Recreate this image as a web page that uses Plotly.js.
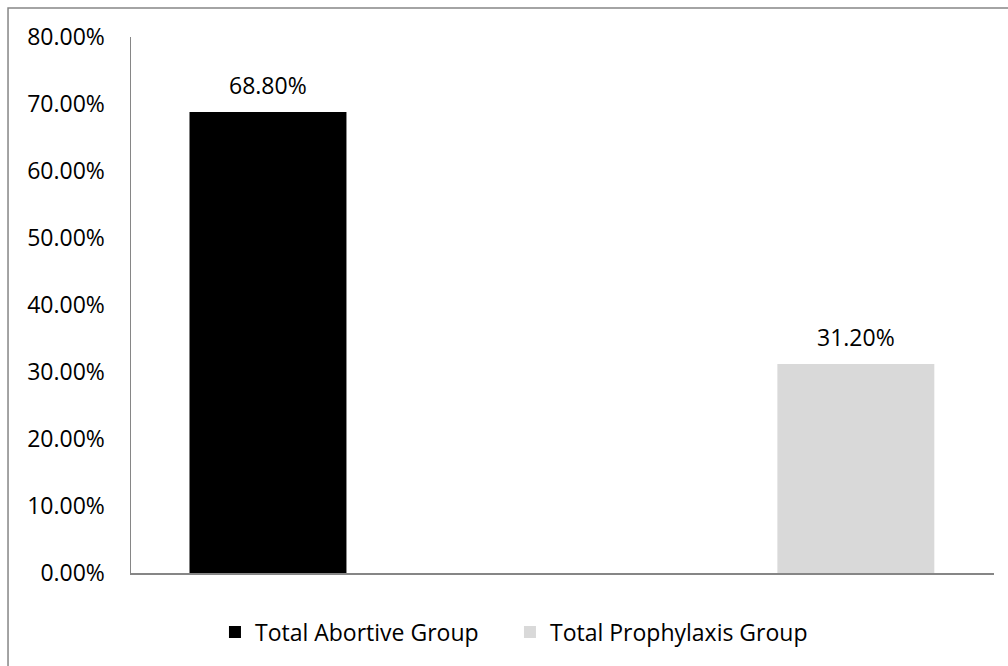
<!DOCTYPE html>
<html>
<head>
<meta charset="utf-8">
<script src="https://cdn.plot.ly/plotly-3.0.1.min.js"></script>
<style>
  html, body { margin: 0; padding: 0; background: #fff; }
  #chart { width: 1008px; height: 666px; }
</style>
</head>
<body>
<div id="chart"></div>
<script>
// Share of patients in each treatment group
const groups = ['Total Abortive Group', 'Total Prophylaxis Group'];
const shares = [0.688, 0.312];

const barColors = ['#000000', '#d9d9d9'];
const legendWidths = [250, 300];
const font = { family: 'Open Sans, Noto Sans, sans-serif', size: 23, color: '#000000' };

const traces = groups.map((g, i) => ({
  type: 'bar',
  name: g,
  x: [g],
  y: [shares[i]],
  width: 0.267,
  legendwidth: legendWidths[i],
  marker: { color: barColors[i], line: { width: 0 } },
  hoverinfo: 'skip'
}));

// value labels sit just above each bar
const labels = groups.map((g, i) => ({
  x: g,
  y: shares[i],
  xref: 'x',
  yref: 'y',
  text: (shares[i] * 100).toFixed(2) + '%',
  showarrow: false,
  yanchor: 'bottom',
  yshift: 9,
  font: font
}));

const layout = {
  width: 1008,
  height: 666,
  margin: { l: 131, r: 14, t: 37, b: 93 },
  paper_bgcolor: '#ffffff',
  plot_bgcolor: '#ffffff',
  font: font,
  barmode: 'overlay',
  showlegend: true,
  legend: {
    orientation: 'h',
    x: 0.0973,
    xanchor: 'left',
    y: -0.11,
    yanchor: 'middle',
    font: font,
    itemclick: false
  },
  xaxis: {
    type: 'category',
    categoryorder: 'array',
    categoryarray: groups,
    range: [-0.233, 1.235],
    showticklabels: false,
    showgrid: false,
    zeroline: false,
    showline: true,
    linecolor: '#868686',
    linewidth: 2,
    ticks: '',
    fixedrange: true
  },
  yaxis: {
    range: [0, 0.8],
    dtick: 0.1,
    tick0: 0,
    tickformat: '.2%',
    showgrid: false,
    zeroline: false,
    showline: true,
    linecolor: '#868686',
    linewidth: 1.5,
    ticks: '',
    ticklabelstandoff: 20,
    tickfont: font,
    fixedrange: true
  },
  annotations: labels,
  shapes: [{
    type: 'rect',
    xref: 'paper', yref: 'paper',
    x0: -0.1425, x1: 1.2,
    y0: -0.4, y1: 1.054,
    line: { color: '#868686', width: 1.5 },
    fillcolor: 'rgba(0,0,0,0)',
    layer: 'below'
  }]
};

Plotly.newPlot('chart', traces, layout, { displayModeBar: false, staticPlot: true });
</script>
</body>
</html>
